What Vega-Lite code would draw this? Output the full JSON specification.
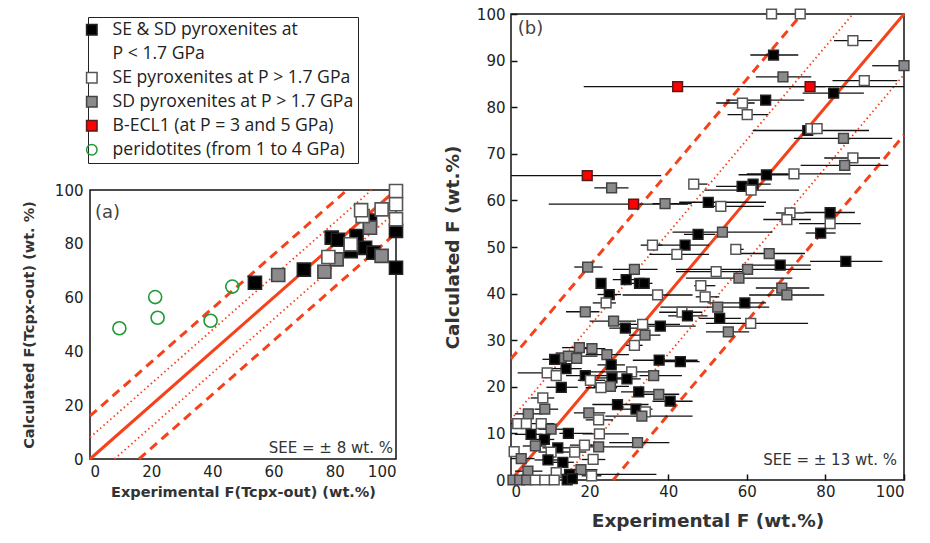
{
"$schema": "https://vega.github.io/schema/vega-lite/v6.json",
"padding": {"left": 20, "top": 5, "right": 5, "bottom": 5},
"config": {
  "view": {"stroke": "#111", "strokeWidth": 1.5},
  "axis": {"grid": false, "domain": false, "labelFont": "DejaVu Sans", "labelFontSize": 15, "labelColor": "#222", "titleFont": "DejaVu Sans", "titleFontWeight": "bold", "titleColor": "#333"},
  "text": {"font": "DejaVu Sans"},
  "style": {"guide-label": {"lineHeight": 24.5}}
},
"datasets": {
  "a": [
    {"x":9.6,"y":48.6,"t":"o"},{"x":21.3,"y":60.2,"t":"o"},{"x":22.1,"y":52.5,"t":"o"},{"x":39.4,"y":51.4,"t":"o"},{"x":46.5,"y":64.1,"t":"o"},
    {"x":53.9,"y":65.5,"t":"k"},{"x":69.9,"y":70.4,"t":"k"},{"x":79,"y":82.3,"t":"k"},{"x":81,"y":81.5,"t":"k"},{"x":85.2,"y":77.3,"t":"k"},{"x":87.1,"y":82.9,"t":"k"},{"x":89.9,"y":78.5,"t":"k"},{"x":92.6,"y":76.7,"t":"k"},{"x":91.5,"y":88.6,"t":"k"},{"x":100,"y":84.8,"t":"k"},{"x":100,"y":71.1,"t":"k"},
    {"x":61.5,"y":68.4,"t":"g"},{"x":76.6,"y":69.6,"t":"g"},{"x":80.6,"y":74.2,"t":"g"},{"x":95.3,"y":75.5,"t":"g"},{"x":91.5,"y":86,"t":"g"},
    {"x":77.9,"y":75.1,"t":"w"},{"x":85.2,"y":79.8,"t":"w"},{"x":89.1,"y":90.3,"t":"w"},{"x":88.6,"y":92.5,"t":"w"},{"x":95.3,"y":92.8,"t":"w"},{"x":100,"y":99.6,"t":"w"},{"x":100,"y":94.7,"t":"w"},{"x":100,"y":89.1,"t":"w"}
  ],
  "la": [
    {"id":"u2","k":"dash","x":0,"y":16},{"id":"u2","k":"dash","x":84,"y":100},
    {"id":"u1","k":"dot","x":0,"y":8},{"id":"u1","k":"dot","x":92,"y":100},
    {"id":"m","k":"solid","x":0,"y":0},{"id":"m","k":"solid","x":100,"y":100},
    {"id":"l1","k":"dot","x":8,"y":0},{"id":"l1","k":"dot","x":100,"y":92},
    {"id":"l2","k":"dash","x":16,"y":0},{"id":"l2","k":"dash","x":100,"y":84}
  ],
  "lb": [
    {"id":"u2","k":"dash","x":0,"y":26},{"id":"u2","k":"dash","x":74,"y":100},
    {"id":"u1","k":"dot","x":0,"y":13},{"id":"u1","k":"dot","x":87,"y":100},
    {"id":"m","k":"solid","x":0,"y":0},{"id":"m","k":"solid","x":100,"y":100},
    {"id":"l1","k":"dot","x":13,"y":0},{"id":"l1","k":"dot","x":100,"y":87},
    {"id":"l2","k":"dash","x":26,"y":0},{"id":"l2","k":"dash","x":100,"y":74}
  ],
  "b": [
    {"x":66.3,"y":100,"t":"w"},{"x":73.6,"y":100,"t":"w"},
    {"x":87.0,"y":94.3,"t":"w","lo":82.2,"hi":91.9},
    {"x":66.8,"y":91.2,"t":"k","lo":60.9,"hi":73.1},
    {"x":100,"y":88.9,"t":"g","lo":91.9,"hi":100},
    {"x":69.2,"y":86.5,"t":"g","lo":62.3,"hi":76.4},
    {"x":89.9,"y":85.7,"t":"w","lo":81.8,"hi":98.3},
    {"x":42.4,"y":84.4,"t":"r","lo":18.5,"hi":80},
    {"x":76.1,"y":84.4,"t":"r","lo":60,"hi":100},
    {"x":82.1,"y":83.0,"t":"k","lo":74.2,"hi":89.8},
    {"x":64.8,"y":81.5,"t":"k","lo":54.7,"hi":74.6},
    {"x":58.9,"y":80.9,"t":"w","lo":52.2,"hi":62},
    {"x":60.1,"y":78.4,"t":"w","lo":55.1,"hi":65.5},
    {"x":75.5,"y":75.0,"t":"k","lo":61.5,"hi":91.1},
    {"x":76.3,"y":75.4,"t":"w"},
    {"x":77.9,"y":75.4,"t":"w"},
    {"x":84.6,"y":73.3,"t":"g","lo":72,"hi":97},
    {"x":87.0,"y":69.1,"t":"w","lo":79.7,"hi":93.9},
    {"x":84.9,"y":67.5,"t":"g","lo":73.7,"hi":96},
    {"x":19.4,"y":65.3,"t":"r","lo":0,"hi":38.2},
    {"x":65.0,"y":65.5,"t":"k","lo":57.9,"hi":72},
    {"x":72.0,"y":65.7,"t":"w","lo":60,"hi":86.5},
    {"x":25.6,"y":62.7,"t":"g","lo":21.2,"hi":29.9},
    {"x":46.5,"y":63.5,"t":"w","lo":45.4,"hi":50},
    {"x":58.8,"y":63.0,"t":"k","lo":52.2,"hi":62},
    {"x":61.6,"y":63.5,"t":"k","lo":57.7,"hi":66.1},
    {"x":61.1,"y":62.2,"t":"w","lo":49.2,"hi":73.3},
    {"x":31.2,"y":59.2,"t":"r","lo":9.6,"hi":45},
    {"x":39.2,"y":59.3,"t":"g","lo":36,"hi":46},
    {"x":50.2,"y":59.6,"t":"k","lo":42.8,"hi":64.9},
    {"x":53.4,"y":58.7,"t":"w","lo":50,"hi":64.4},
    {"x":71.0,"y":57.3,"t":"w","lo":67.4,"hi":74.6},
    {"x":70.2,"y":55.9,"t":"w","lo":64.2,"hi":76.3},
    {"x":81.2,"y":57.4,"t":"k","lo":74.6,"hi":87.5},
    {"x":81.2,"y":55.0,"t":"w","lo":73.3,"hi":89},
    {"x":78.8,"y":53.0,"t":"k","lo":75,"hi":82.6},
    {"x":53.8,"y":53.2,"t":"g","lo":41.1,"hi":66.5},
    {"x":47.6,"y":52.7,"t":"k","lo":44,"hi":52},
    {"x":36.0,"y":50.4,"t":"w","lo":33,"hi":38.5},
    {"x":44.3,"y":50.4,"t":"k","lo":35.6,"hi":50.4},
    {"x":42.2,"y":48.4,"t":"w","lo":35.2,"hi":50.4},
    {"x":57.2,"y":49.5,"t":"w","lo":55.8,"hi":59.2},
    {"x":65.7,"y":48.6,"t":"g","lo":56.4,"hi":74.8},
    {"x":85.2,"y":46.9,"t":"k","lo":76.1,"hi":94.5},
    {"x":68.5,"y":46.1,"t":"k","lo":61.5,"hi":76.3},
    {"x":19.5,"y":45.7,"t":"g","lo":16.1,"hi":23.3},
    {"x":31.4,"y":45.2,"t":"g","lo":25.9,"hi":37.3},
    {"x":60.2,"y":45.2,"t":"g","lo":42,"hi":76.3},
    {"x":52.2,"y":44.7,"t":"w","lo":42,"hi":60.6},
    {"x":58.0,"y":43.3,"t":"g","lo":44.5,"hi":71.6},
    {"x":29.3,"y":43.0,"t":"k","lo":25.9,"hi":35.2},
    {"x":22.9,"y":42.2,"t":"k","lo":21.6,"hi":24.2},
    {"x":32.7,"y":42.2,"t":"k"},
    {"x":33.9,"y":42.2,"t":"k","lo":30,"hi":36},
    {"x":48.3,"y":41.7,"t":"w","lo":46.6,"hi":52},
    {"x":68.9,"y":41.2,"t":"g","lo":62.3,"hi":75.9},
    {"x":25.0,"y":39.8,"t":"k","lo":22,"hi":28},
    {"x":37.3,"y":39.7,"t":"w","lo":28.4,"hi":46.2},
    {"x":70.2,"y":39.7,"t":"g","lo":60.6,"hi":79.7},
    {"x":24.2,"y":38.0,"t":"w","lo":20.8,"hi":26.7},
    {"x":49.4,"y":39.3,"t":"w","lo":47,"hi":53},
    {"x":59.5,"y":38.0,"t":"k","lo":50,"hi":64.9},
    {"x":18.9,"y":36.1,"t":"g","lo":14,"hi":22.5},
    {"x":52.6,"y":37.1,"t":"g","lo":38,"hi":65.7},
    {"x":43.5,"y":36.0,"t":"w","lo":37.7,"hi":48.7},
    {"x":44.9,"y":35.2,"t":"k","lo":40,"hi":50},
    {"x":53.1,"y":34.7,"t":"k","lo":47.9,"hi":58.5},
    {"x":26.1,"y":34.1,"t":"g","lo":20,"hi":31.8},
    {"x":33.5,"y":33.4,"t":"w","lo":25.4,"hi":43},
    {"x":29.1,"y":32.6,"t":"k","lo":25,"hi":35.2},
    {"x":38.0,"y":33.0,"t":"k","lo":34.4,"hi":47},
    {"x":61.0,"y":33.6,"t":"w","lo":49.6,"hi":75.6},
    {"x":34.1,"y":31.1,"t":"g","lo":30,"hi":38},
    {"x":55.3,"y":31.8,"t":"g","lo":49.6,"hi":60.6},
    {"x":31.4,"y":28.9,"t":"w","lo":29.3,"hi":33.5},
    {"x":17.4,"y":28.4,"t":"g","lo":13,"hi":20},
    {"x":20.6,"y":28.2,"t":"g","lo":16,"hi":24},
    {"x":24.4,"y":26.9,"t":"g","lo":19,"hi":30},
    {"x":12.8,"y":26.2,"t":"g"},
    {"x":14.6,"y":26.6,"t":"g","lo":10,"hi":22},
    {"x":16.7,"y":26.1,"t":"g"},
    {"x":11.1,"y":25.9,"t":"k","lo":8,"hi":14},
    {"x":25.5,"y":24.7,"t":"k","lo":22,"hi":29},
    {"x":37.7,"y":25.7,"t":"k","lo":31,"hi":47.5},
    {"x":43.1,"y":25.4,"t":"k","lo":38.6,"hi":48},
    {"x":14.0,"y":23.9,"t":"k","lo":10,"hi":18},
    {"x":9.2,"y":23.0,"t":"w","lo":1.7,"hi":13.2},
    {"x":11.5,"y":22.4,"t":"w"},
    {"x":18.9,"y":22.4,"t":"k","lo":14,"hi":26.7},
    {"x":25.7,"y":21.9,"t":"k","lo":22,"hi":30},
    {"x":30.7,"y":23.2,"t":"w","lo":19.1,"hi":35},
    {"x":29.5,"y":21.7,"t":"k","lo":26,"hi":33},
    {"x":36.3,"y":22.4,"t":"g","lo":32.7,"hi":43.5},
    {"x":20.2,"y":21.4,"t":"w","lo":17,"hi":24},
    {"x":12.8,"y":19.9,"t":"k","lo":9,"hi":17},
    {"x":25.3,"y":20.1,"t":"g","lo":21,"hi":30},
    {"x":22.9,"y":19.8,"t":"w","lo":19,"hi":27},
    {"x":32.5,"y":18.9,"t":"k","lo":28,"hi":37},
    {"x":37.6,"y":18.4,"t":"g","lo":32.7,"hi":42.8},
    {"x":40.5,"y":16.9,"t":"k","lo":36,"hi":46.2},
    {"x":8.1,"y":17.6,"t":"w","lo":5,"hi":11},
    {"x":8.6,"y":15.2,"t":"g","lo":6,"hi":12},
    {"x":27.1,"y":16.2,"t":"k","lo":20.7,"hi":35},
    {"x":31.8,"y":15.2,"t":"k","lo":28,"hi":36},
    {"x":34.2,"y":14.6,"t":"w"},
    {"x":33.3,"y":13.7,"t":"g","lo":24,"hi":46.2},
    {"x":19.8,"y":14.4,"t":"g","lo":16,"hi":24},
    {"x":22.3,"y":12.9,"t":"w","lo":19,"hi":26},
    {"x":4.4,"y":14.2,"t":"g","lo":1,"hi":8},
    {"x":1.7,"y":12.1,"t":"w","lo":0,"hi":4},
    {"x":3.9,"y":12.1,"t":"w"},
    {"x":7.7,"y":12.1,"t":"w","lo":5,"hi":11},
    {"x":10.2,"y":10.9,"t":"g","lo":7,"hi":14},
    {"x":14.6,"y":10.0,"t":"k","lo":12.3,"hi":20.7},
    {"x":22.5,"y":9.9,"t":"w","lo":18.2,"hi":30},
    {"x":5.1,"y":9.8,"t":"k","lo":1,"hi":8},
    {"x":8.5,"y":8.7,"t":"k","lo":5,"hi":11},
    {"x":11.9,"y":6.9,"t":"k","lo":8,"hi":15},
    {"x":6.2,"y":7.3,"t":"g","lo":3,"hi":9},
    {"x":32.2,"y":8.0,"t":"g","lo":25,"hi":40.3},
    {"x":18.7,"y":7.5,"t":"w","lo":15,"hi":23},
    {"x":22.3,"y":7.1,"t":"g","lo":18.7,"hi":32},
    {"x":10.2,"y":6.0,"t":"w","lo":7,"hi":13},
    {"x":16.2,"y":6.0,"t":"w","lo":13,"hi":19},
    {"x":0.8,"y":6.1,"t":"w"},
    {"x":2.6,"y":4.6,"t":"g","lo":0,"hi":6},
    {"x":9.4,"y":4.3,"t":"k","lo":6,"hi":13},
    {"x":13.2,"y":3.8,"t":"k","lo":10,"hi":16},
    {"x":20.9,"y":4.4,"t":"w","lo":18,"hi":24},
    {"x":17.8,"y":2.2,"t":"g","lo":15,"hi":22},
    {"x":14.9,"y":1.2,"t":"k","lo":12,"hi":37},
    {"x":20.5,"y":0.9,"t":"w","lo":18,"hi":23},
    {"x":11.5,"y":1.6,"t":"w"},
    {"x":4.3,"y":1.9,"t":"g","lo":1,"hi":8},
    {"x":0.5,"y":0,"t":"g"},{"x":2.2,"y":0,"t":"g"},{"x":4.0,"y":0,"t":"g"},{"x":6.2,"y":0,"t":"w"},{"x":8.6,"y":0,"t":"w"},{"x":11.0,"y":0,"t":"w"},{"x":14.3,"y":0,"t":"k"},{"x":15.6,"y":0.3,"t":"k"}
  ]
},
"hconcat": [
  {"spacing": 10, "vconcat": [
    {"width": 306, "height": 156, "view": {"stroke": null}, "data": {"values": [{}]}, "mark": {"type": "text"}, "encoding": {"text": {"value": ""}}},
    {"width": 306, "height": 269, "layer": [
      {"data": {"name": "la"}, "transform": [{"filter": "datum.k == 'solid'"}], "mark": {"type": "line", "color": "#f5421b", "strokeWidth": 3},
       "encoding": {
         "x": {"field": "x", "type": "quantitative", "scale": {"domain": [0, 100], "nice": false}, "axis": {"values": [0,20,40,60,80,100], "ticks": false, "labelPadding": 5, "title": "Experimental F(Tcpx-out) (wt.%)", "titleFontSize": 14.5, "titlePadding": 6}},
         "y": {"field": "y", "type": "quantitative", "scale": {"domain": [0, 100], "nice": false}, "axis": {"values": [0,20,40,60,80,100], "ticks": false, "labelPadding": 7, "title": "Calculated F(Tcpx-out) (wt. %)", "titleFontSize": 14.5, "titlePadding": 18}},
         "detail": {"field": "id"}}},
      {"data": {"name": "la"}, "transform": [{"filter": "datum.k == 'dot'"}], "mark": {"type": "line", "color": "#f5421b", "strokeWidth": 1.8, "strokeDash": [1.5, 3]},
       "encoding": {"x": {"field": "x", "type": "quantitative"}, "y": {"field": "y", "type": "quantitative"}, "detail": {"field": "id"}}},
      {"data": {"name": "la"}, "transform": [{"filter": "datum.k == 'dash'"}], "mark": {"type": "line", "color": "#f5421b", "strokeWidth": 3, "strokeDash": [9, 6]},
       "encoding": {"x": {"field": "x", "type": "quantitative"}, "y": {"field": "y", "type": "quantitative"}, "detail": {"field": "id"}}},
      {"data": {"name": "a"}, "mark": {"type": "point", "filled": true, "size": 170, "strokeWidth": 1.6, "opacity": 1},
       "encoding": {"x": {"field": "x", "type": "quantitative"}, "y": {"field": "y", "type": "quantitative"},
         "fill": {"field": "t", "type": "nominal", "scale": {"domain": ["k","w","g","r","o"], "range": ["#000000","#ffffff","#8c8a8c","#ff0000","transparent"]},
           "legend": {"orient": "none", "legendX": -2, "legendY": 3, "title": null, "strokeColor": "#222", "padding": 4, "symbolOffset": -9, "symbolSize": 110, "symbolStrokeWidth": 1.5, "labelFont": "Open Sans", "labelFontSize": 17.6, "labelColor": "#222", "rowPadding": 5, "labelLimit": 400, "labelOffset": 12, "fillColor": "white",
             "labelExpr": "datum.label == 'k' ? ['SE & SD pyroxenites at', 'P < 1.7 GPa'] : datum.label == 'w' ? 'SE pyroxenites at P > 1.7 GPa' : datum.label == 'g' ? 'SD pyroxenites at P > 1.7 GPa\u2003\u2003' : datum.label == 'r' ? 'B-ECL1 (at P = 3 and 5 GPa)' : 'peridotites (from 1 to 4 GPa)'"}},
         "stroke": {"field": "t", "type": "nominal", "scale": {"domain": ["k","w","g","r","o"], "range": ["#222222","#555555","#444444","#5a1a1a","#1e9a35"]},
           "legend": {"orient": "none", "legendX": -2, "legendY": 3, "title": null, "strokeColor": "#222", "padding": 4, "symbolOffset": -9, "symbolSize": 110, "symbolStrokeWidth": 1.5, "labelFont": "Open Sans", "labelFontSize": 17.6, "labelColor": "#222", "rowPadding": 5, "labelLimit": 400, "labelOffset": 12, "fillColor": "white",
             "labelExpr": "datum.label == 'k' ? ['SE & SD pyroxenites at', 'P < 1.7 GPa'] : datum.label == 'w' ? 'SE pyroxenites at P > 1.7 GPa' : datum.label == 'g' ? 'SD pyroxenites at P > 1.7 GPa\u2003\u2003' : datum.label == 'r' ? 'B-ECL1 (at P = 3 and 5 GPa)' : 'peridotites (from 1 to 4 GPa)'"}},
         "shape": {"field": "t", "type": "nominal", "scale": {"domain": ["k","w","g","r","o"], "range": ["square","square","square","square","circle"]},
           "legend": {"orient": "none", "legendX": -2, "legendY": 3, "title": null, "strokeColor": "#222", "padding": 4, "symbolOffset": -9, "symbolSize": 110, "symbolStrokeWidth": 1.5, "labelFont": "Open Sans", "labelFontSize": 17.6, "labelColor": "#222", "rowPadding": 5, "labelLimit": 400, "labelOffset": 12, "fillColor": "white",
             "labelExpr": "datum.label == 'k' ? ['SE & SD pyroxenites at', 'P < 1.7 GPa'] : datum.label == 'w' ? 'SE pyroxenites at P > 1.7 GPa' : datum.label == 'g' ? 'SD pyroxenites at P > 1.7 GPa\u2003\u2003' : datum.label == 'r' ? 'B-ECL1 (at P = 3 and 5 GPa)' : 'peridotites (from 1 to 4 GPa)'"}}}},
      {"data": {"values": [{}]}, "mark": {"type": "text", "align": "left", "baseline": "middle", "fontSize": 18, "color": "#444"},
       "encoding": {"x": {"datum": 1.6}, "y": {"datum": 91.4}, "text": {"value": "(a)"}}},
      {"data": {"values": [{}]}, "mark": {"type": "text", "align": "right", "baseline": "middle", "fontSize": 15, "color": "#333"},
       "encoding": {"x": {"datum": 99}, "y": {"datum": 4.1}, "text": {"value": "SEE = ± 8 wt. %"}}}
    ]}
  ]},
  {"width": 393, "height": 466, "layer": [
    {"data": {"name": "lb"}, "transform": [{"filter": "datum.k == 'solid'"}], "mark": {"type": "line", "color": "#f5421b", "strokeWidth": 3},
     "encoding": {
       "x": {"field": "x", "type": "quantitative", "scale": {"domain": [0, 100], "nice": false}, "axis": {"values": [0,20,40,60,80,100], "tickSize": -6, "tickColor": "#111", "tickWidth": 1.5, "labelPadding": 10, "title": "Experimental F (wt.%)", "titleFontSize": 18.5, "titlePadding": 12}},
       "y": {"field": "y", "type": "quantitative", "scale": {"domain": [0, 100], "nice": false}, "axis": {"values": [0,10,20,30,40,50,60,70,80,90,100], "tickSize": -6, "tickColor": "#111", "tickWidth": 1.5, "labelPadding": 12, "title": "Calculated F (wt.%)", "titleFontSize": 18.5, "titlePadding": 14}},
       "detail": {"field": "id"}}},
    {"data": {"name": "lb"}, "transform": [{"filter": "datum.k == 'dot'"}], "mark": {"type": "line", "color": "#f5421b", "strokeWidth": 1.8, "strokeDash": [1.5, 3]},
     "encoding": {"x": {"field": "x", "type": "quantitative"}, "y": {"field": "y", "type": "quantitative"}, "detail": {"field": "id"}}},
    {"data": {"name": "lb"}, "transform": [{"filter": "datum.k == 'dash'"}], "mark": {"type": "line", "color": "#f5421b", "strokeWidth": 3, "strokeDash": [9, 6]},
     "encoding": {"x": {"field": "x", "type": "quantitative"}, "y": {"field": "y", "type": "quantitative"}, "detail": {"field": "id"}}},
    {"data": {"name": "b"}, "transform": [{"filter": "isValid(datum.lo)"}], "mark": {"type": "rule", "color": "#111", "strokeWidth": 1.3},
     "encoding": {"x": {"field": "lo", "type": "quantitative"}, "x2": {"field": "hi"}, "y": {"field": "y", "type": "quantitative"}}},
    {"data": {"name": "b"}, "mark": {"type": "point", "filled": true, "size": 95, "strokeWidth": 1.5, "opacity": 1},
     "encoding": {"x": {"field": "x", "type": "quantitative"}, "y": {"field": "y", "type": "quantitative"},
       "fill": {"field": "t", "type": "nominal"}, "stroke": {"field": "t", "type": "nominal"}, "shape": {"field": "t", "type": "nominal"}}},
    {"data": {"values": [{}]}, "mark": {"type": "text", "align": "left", "baseline": "middle", "fontSize": 18, "color": "#444"},
     "encoding": {"x": {"datum": 1.7}, "y": {"datum": 96.7}, "text": {"value": "(b)"}}},
    {"data": {"values": [{}]}, "mark": {"type": "text", "align": "right", "baseline": "middle", "fontSize": 15, "color": "#333"},
     "encoding": {"x": {"datum": 98.2}, "y": {"datum": 4.3}, "text": {"value": "SEE = ± 13 wt. %"}}}
  ]}
],
"spacing": 35
}
